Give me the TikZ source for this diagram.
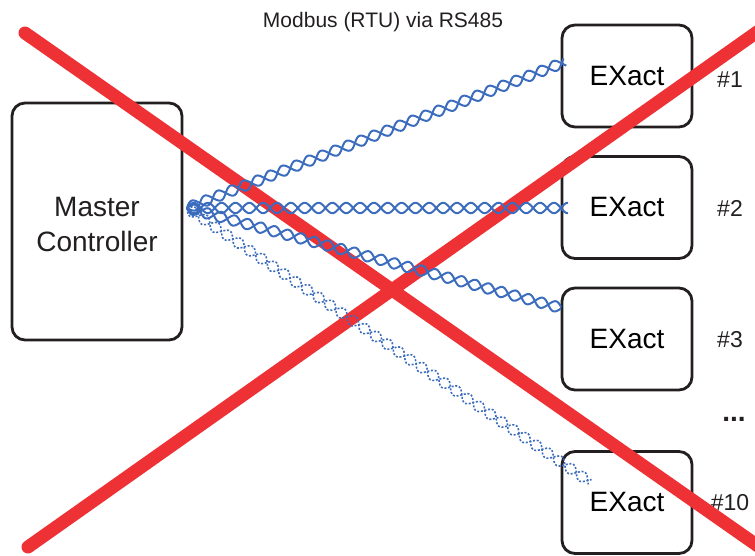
\documentclass[tikz,border=0pt]{standalone}
\usepackage{fontspec}
\setmainfont{Liberation Sans}
\usetikzlibrary{calc}
\definecolor{xred}{RGB}{238,49,53}
\definecolor{tpblue}{RGB}{59,108,189}
\definecolor{boxblack}{RGB}{35,31,32}
\newcommand\twpair[3]{%
  \path (#1); \pgfgetlastxy{\twxa}{\twya}%
  \path (#2); \pgfgetlastxy{\twxb}{\twyb}%
  \pgfmathsetmacro\twlen{veclen(\twxb-\twxa,\twyb-\twya)}%
  \pgfmathsetmacro\twang{atan2(\twyb-\twya,\twxb-\twxa)}%
  \begin{scope}[shift={(#1)}, rotate=\twang, x=1pt, y=1pt]
    \draw[#3] plot[domain=0:\twlen, samples=320, smooth] (\x, {5.2*sin(13*\x)});
    \draw[#3] plot[domain=0:\twlen, samples=320, smooth] (\x, {-5.2*sin(13*\x)});
  \end{scope}}
\begin{document}
\begin{tikzpicture}[x=1pt,y=-1pt,
  anybox/.style={draw=boxblack, line width=2.8pt, rounded corners=13pt, inner sep=0pt, fill=white},
  exbox/.style={anybox, minimum width=130pt, minimum height=102pt, font=\fontsize{28}{34}\selectfont},
  numlabel/.style={font=\fontsize{23}{28}\selectfont, text=boxblack},
  tpstrand/.style={tpblue, line width=2pt},
  tpdots/.style={tpblue, line width=1.6pt, dash pattern=on 2pt off 1.7pt},
  crossline/.style={xred, line width=13pt, line cap=round}]
\useasboundingbox (0,0) rectangle (755,556);

% boxes
\node[anybox, minimum width=170pt, minimum height=237pt] (mc) at (97,221.5) {};
\node[align=center, font=\fontsize{28}{35}\selectfont, text=boxblack] (mct) at (97,225) {Master\\Controller};
\node[exbox] (ex1) at (627,76) {EXact};
\node[exbox] (ex2) at (627,207.5) {EXact};
\node[exbox] (ex3) at (627,339) {EXact};
\node[exbox] (ex10) at (627,502.5) {EXact};

% labels
\node[font=\fontsize{21}{25}\selectfont, text=boxblack, anchor=base] (title) at (383,28) {Modbus (RTU) via RS485};
\node[numlabel] (n1) at (730,80) {\#1};
\node[numlabel] (n2) at (730,208) {\#2};
\node[numlabel] (n3) at (730,340) {\#3};
\node[numlabel] (n10) at (730,503) {\#10};
\node[font=\fontsize{28}{34}\selectfont\bfseries, text=boxblack, anchor=base] (dots) at (734,421) {...};

% red cross
\coordinate (r1a) at (25,33);
\coordinate (r1b) at (758,546);
\coordinate (r2a) at (28,547);
\coordinate (r2b) at (760,30);
\draw[crossline] (r1a) -- (r1b);
\draw[crossline] (r2a) -- (r2b);

% twisted pairs
\coordinate (s) at (187,208);
\coordinate (e1) at (565,62);
\coordinate (e2) at (568,208);
\coordinate (e3) at (561,308);
\coordinate (e10) at (590,482);
\twpair{s}{e1}{tpstrand}
\twpair{s}{e2}{tpstrand}
\twpair{s}{e3}{tpstrand}
\twpair{s}{e10}{tpdots}
\end{tikzpicture}
\end{document}
